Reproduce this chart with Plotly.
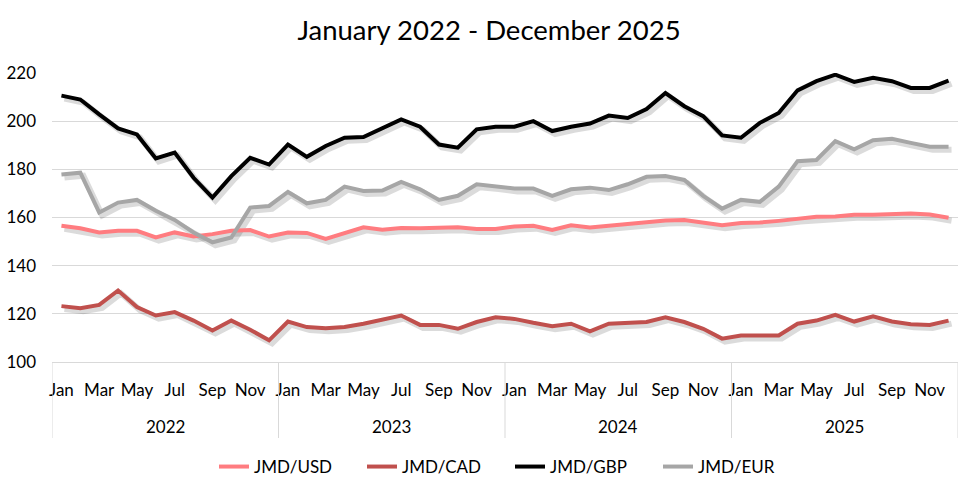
import plotly.graph_objects as go

years = ["2022", "2023", "2024", "2025"]
months = ["Jan", "Feb", "Mar", "Apr", "May", "Jun", "Jul", "Aug", "Sep", "Oct", "Nov", "Dec"]

jmd_usd = [156.6, 155.5, 153.8, 154.5, 154.5, 151.7, 153.8, 152.1, 153.1, 154.5, 154.8, 152.1,
           153.8, 153.6, 151.1, 153.5, 155.9, 154.9, 155.6, 155.5, 155.5, 155.9, 155.2, 155.2,
           156.3, 156.6, 154.8, 156.8, 155.9, 156.6, 157.7, 158.2, 158.8, 159.0, 157.7, 156.8,
           157.7, 157.9, 158.6, 159.6, 160.3, 160.4, 161.1, 161.1, 161.4, 161.7, 161.2, 159.9]
jmd_cad = [123.2, 122.3, 123.7, 129.7, 122.8, 119.3, 120.7, 117.2, 113.1, 117.2, 113.4, 109.0,
           116.8, 114.5, 114.0, 114.5, 115.9, 117.7, 119.3, 115.4, 115.4, 113.8, 116.6, 118.6,
           117.9, 116.3, 114.9, 115.9, 112.7, 115.9, 116.1, 116.6, 118.6, 116.6, 113.8, 109.7,
           111.0, 111.0, 111.0, 115.9, 117.2, 119.6, 116.8, 119.0, 116.8, 115.7, 115.4, 117.2]
jmd_gbp = [210.6, 209.0, 202.8, 197.0, 194.5, 184.5, 187.0, 176.5, 168.3, 177.2, 184.8, 182.0,
           190.3, 185.2, 189.7, 193.1, 193.4, 197.2, 200.7, 197.7, 190.3, 189.0, 196.6, 197.7,
           197.7, 200.0, 195.9, 197.7, 199.0, 202.3, 201.3, 205.0, 211.7, 206.2, 202.1, 194.1,
           193.1, 199.3, 203.4, 212.8, 216.6, 219.3, 216.3, 218.0, 216.6, 213.8, 213.8, 216.8]
jmd_eur = [177.9, 178.6, 162.1, 166.2, 167.3, 162.8, 159.0, 153.8, 149.7, 151.7, 164.1, 164.8,
           170.6, 165.9, 167.3, 172.8, 171.0, 171.2, 174.8, 171.7, 167.3, 169.0, 173.8, 173.1,
           172.0, 172.0, 169.0, 171.7, 172.4, 171.4, 173.8, 176.9, 177.2, 175.6, 169.0, 163.7,
           167.3, 166.5, 172.8, 183.4, 183.9, 191.7, 188.3, 192.1, 192.7, 191.0, 189.4, 189.4]

series_names = ["JMD/USD", "JMD/CAD", "JMD/GBP", "JMD/EUR"]
series_values = [jmd_usd, jmd_cad, jmd_gbp, jmd_eur]
series_colors = ["#FF7C80", "#C0504D", "#000000", "#A6A6A6"]

n_months = len(months)
n = len(years) * n_months
xs = list(range(n))
tick_vals = [i for i in xs if i % 2 == 0]
tick_text = [months[i % n_months] for i in tick_vals]

FONT = "Lato, Carlito, Calibri, sans-serif"
TXT = "#000000"

# plot-area geometry (pixels)
W, H = 978, 488
ML, MR, MT, MB = 52, 17, 73, 123
OFF = 3
PW = W - ML - MR
PH = H - MT - MB
main_x = [0, (PW - OFF) / PW]
main_y = [OFF / PH, 1]
shad_x = [OFF / PW, 1]
shad_y = [0, (PH - OFF) / PH]

fig = go.Figure()

# soft drop shadows (subplot 2, shifted a few pixels right/down)
for vals in series_values:
    fig.add_trace(go.Scatter(x=xs, y=vals, mode="lines", xaxis="x2", yaxis="y2",
                             line=dict(color="rgba(0,0,0,0.14)", width=6),
                             showlegend=False, hoverinfo="skip"))
# main lines (subplot 3)
for name, vals, col in zip(series_names, series_values, series_colors):
    fig.add_trace(go.Scatter(x=xs, y=vals, mode="lines", name=name, xaxis="x3", yaxis="y3",
                             line=dict(color=col, width=4)))

xr = [-0.5, n - 0.5]
yr = [100, 220]

shapes = []
for k in range(len(years) + 1):
    shapes.append(dict(type="line", xref="x", yref="paper", x0=k * n_months - 0.5,
                       x1=k * n_months - 0.5, ysizemode="pixel", yanchor=main_y[0],
                       y0=0, y1=-76, line=dict(color="#D9D9D9", width=1)))

annotations = [dict(x=k * n_months + (n_months - 1) / 2, xref="x", y=main_y[0], yref="paper",
                    yanchor="middle", yshift=-64, text=yr_lbl, showarrow=False,
                    font=dict(family=FONT, size=17, color=TXT))
               for k, yr_lbl in enumerate(years)]

fig.update_layout(
    width=W, height=H,
    margin=dict(l=ML, r=MR, t=MT, b=MB, autoexpand=False),
    paper_bgcolor="white", plot_bgcolor="rgba(0,0,0,0)",
    title=dict(text="January 2022 - December 2025", x=0.5, xanchor="center",
               y=1 - 30 / H, yanchor="middle", font=dict(family=FONT, size=27.5, color=TXT)),
    font=dict(family=FONT, size=17, color=TXT),
    xaxis=dict(domain=main_x, range=xr, tickvals=tick_vals, ticktext=tick_text,
               showgrid=False, zeroline=False, showline=True, linecolor="#D9D9D9",
               ticks="", ticklabelstandoff=13, tickfont=dict(family=FONT, size=17, color=TXT),
               anchor="y"),
    yaxis=dict(domain=main_y, range=yr, dtick=20, showgrid=True, gridcolor="#D9D9D9",
               gridwidth=1, zeroline=False, showline=False, ticks="", ticklabelstandoff=15,
               tickfont=dict(family=FONT, size=17, color=TXT), anchor="x"),
    xaxis2=dict(domain=shad_x, range=xr, visible=False, anchor="y2"),
    yaxis2=dict(domain=shad_y, range=yr, visible=False, anchor="x2"),
    xaxis3=dict(domain=main_x, range=xr, visible=False, anchor="y3"),
    yaxis3=dict(domain=main_y, range=yr, visible=False, anchor="x3"),
    legend=dict(orientation="h", xref="container", x=214 / W, xanchor="left",
                yref="container", y=1 - 467 / H, yanchor="middle",
                font=dict(family=FONT, size=17, color=TXT),
                entrywidth=103, entrywidthmode="pixels"),
    shapes=shapes,
    annotations=annotations,
    showlegend=True,
)

fig.write_html("out.html", config={"displayModeBar": False},
               post_script="document.body.style.margin='0';document.body.style.overflow='hidden';")
